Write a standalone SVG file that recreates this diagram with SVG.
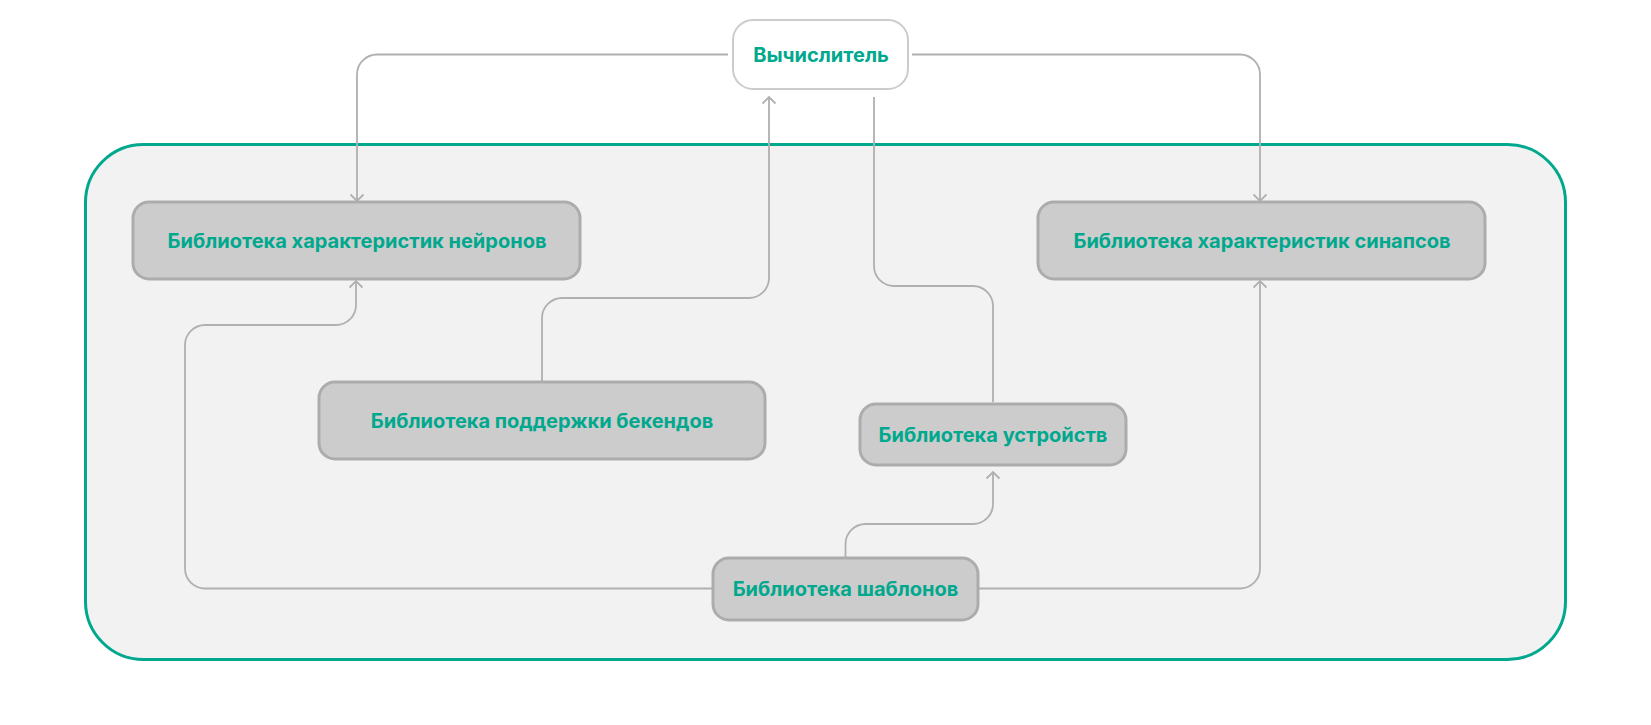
<svg xmlns="http://www.w3.org/2000/svg" width="1651" height="725" viewBox="0 0 1651 725">
<style>
.node{fill:#cccccc;stroke:#acacac;stroke-width:3}
.lbl{font-family:Inter,"Noto Sans",sans-serif;font-weight:700;font-size:20px;fill:#00a88e;text-anchor:middle}
.conn{fill:none;stroke:#b0b0b0;stroke-width:1.8}
</style>
<defs>
<marker id="arr" markerUnits="userSpaceOnUse" markerWidth="16" markerHeight="16" viewBox="-8 -8 16 16" refX="0" refY="0" orient="auto">
<path d="M-6.5,-6.5 L0,0 L-6.5,6.5" fill="none" stroke="#b0b0b0" stroke-width="1.8"/>
</marker>
</defs>
<rect width="1651" height="725" fill="#ffffff"/>
<g id="container">
<rect x="85.5" y="144.5" width="1480" height="515" rx="58" fill="#f2f2f2" stroke="#00a88e" stroke-width="3"/>
</g>
<g id="connectors">
<path class="conn" d="M728 54.5 H377 A20 20 0 0 0 357 74.5 V201" marker-end="url(#arr)"/>
<path class="conn" d="M912 54.5 H1240 A20 20 0 0 1 1260 74.5 V201" marker-end="url(#arr)"/>
<path class="conn" d="M542 381 V318 A20 20 0 0 1 562 298 H749 A20 20 0 0 0 769 278 V97" marker-end="url(#arr)"/>
<path class="conn" d="M874 97 V266 A20 20 0 0 0 894 286 H973 A20 20 0 0 1 993 306 V402"/>
<path class="conn" d="M845.5 557 V544 A20 20 0 0 1 865.5 524 H973 A20 20 0 0 0 993 504 V472" marker-end="url(#arr)"/>
<path class="conn" d="M712 588.5 H205 A20 20 0 0 1 185 568.5 V345 A20 20 0 0 1 205 325 H336 A20 20 0 0 0 356 305 V281" marker-end="url(#arr)"/>
<path class="conn" d="M979 588.5 H1240 A20 20 0 0 0 1260 568.5 V281" marker-end="url(#arr)"/>
</g>
<g id="n-calc">
<rect x="733" y="20" width="175" height="69" rx="20" fill="#ffffff" stroke="#cccccc" stroke-width="2"/>
<text class="lbl" x="821" y="62">Вычислитель</text>
</g>
<g id="n-neurons">
<rect class="node" x="133" y="202" width="447" height="77" rx="16"/>
<text class="lbl" x="357" y="248">Библиотека характеристик нейронов</text>
</g>
<g id="n-synapses">
<rect class="node" x="1038" y="202" width="447" height="77" rx="16"/>
<text class="lbl" x="1262" y="248">Библиотека характеристик синапсов</text>
</g>
<g id="n-backends">
<rect class="node" x="319" y="382" width="446" height="77" rx="16"/>
<text class="lbl" x="542" y="428">Библиотека поддержки бекендов</text>
</g>
<g id="n-devices">
<rect class="node" x="860" y="404" width="266" height="61" rx="16"/>
<text class="lbl" x="993" y="442">Библиотека устройств</text>
</g>
<g id="n-templates">
<rect class="node" x="713" y="558" width="265" height="62" rx="16"/>
<text class="lbl" x="845.5" y="596">Библиотека шаблонов</text>
</g>
</svg>
